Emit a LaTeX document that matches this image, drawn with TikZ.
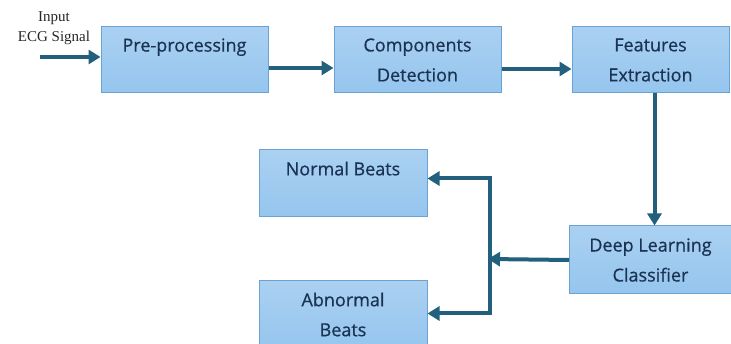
\documentclass[tikz,border=0pt]{standalone}
\usepackage{fontspec}
\setmainfont{Liberation Serif}
\newfontfamily\boxfont[FakeBold=0.6]{Open Sans}
\usetikzlibrary{arrows.meta,positioning}
\definecolor{boxfill}{HTML}{95C5EE}
\definecolor{boxline}{HTML}{6AA2D4}
\definecolor{boxtext}{HTML}{1B3352}
\definecolor{flowcol}{HTML}{22607E}

\begin{document}
\begin{tikzpicture}[
x=1pt, y=-1pt,
stagebox/.style={rectangle, draw=boxline, line width=1pt, top color=boxfill!80!white, bottom color=boxfill,
  minimum height=66pt, align=center, text=boxtext, font=\boxfont\fontsize{18}{30}\selectfont},
flow/.style={draw=flowcol, line width=4pt, -{Triangle[length=12pt,width=14pt]}},
inlabel/.style={align=center, font=\fontsize{15}{20}\selectfont, text=black!85}]
\useasboundingbox (0,0) rectangle (731,344);
% Nodes
\node[stagebox, minimum width=167pt] (pre) at (184.5,60) {Pre-processing\\ \mbox{}};
\node[stagebox, minimum width=167pt] (comp) [right=65pt of pre] {Components\\Detection};
\node[stagebox, minimum width=157pt] (feat) [right=70pt of comp] {Features\\Extraction};
\node[stagebox, minimum width=162pt, minimum height=68pt] (dl) [below=132pt of feat] {Deep Learning\\Classifier};
\node[stagebox, minimum width=168pt, minimum height=67pt] (normal) at (343,183.5) {Normal Beats\\ \mbox{}};
\node[stagebox, minimum width=168pt, minimum height=67pt] (abnormal) [below=63pt of normal] {Abnormal\\Beats};
\node[inlabel] (inlab) at (54,28) {Input\\ECG Signal};
\coordinate (in) at (40,57);
\coordinate (split) at (490,259);
% Lines
\draw[flow] (in) -- (in -| pre.west);
\draw[flow] ([yshift=-8pt]pre.east) -- ([yshift=-8pt]comp.west);
\draw[flow] ([yshift=-9pt]comp.east) -- ([yshift=-9pt]feat.west);
\draw[flow] ([xshift=4pt]feat.south) -- ([xshift=4pt]dl.north);
\draw[flow] (dl.west) -- ([xshift=-2pt]split);
\draw[flow, line join=miter] (split) |- ([yshift=5pt]normal.east);
\draw[flow, line join=miter] (split) |- ([yshift=1pt]abnormal.east);
\end{tikzpicture}
\end{document}
